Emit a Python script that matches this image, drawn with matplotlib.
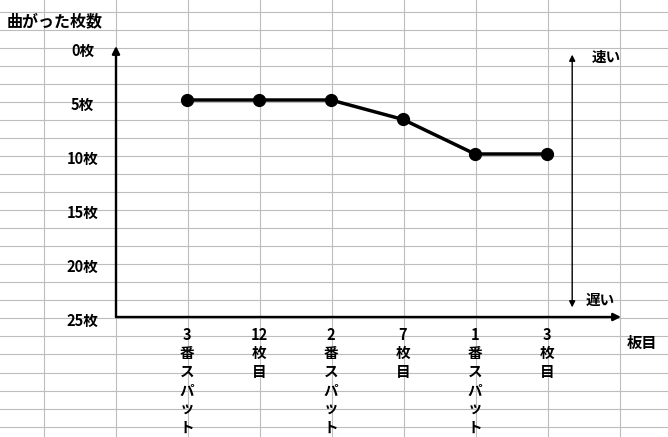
import matplotlib.pyplot as plt
import matplotlib.transforms as mtransforms

plt.rcParams['font.family'] = ['Noto Sans CJK JP', 'DejaVu Sans']

# データ
categories = ["3\n番\nス\nパ\nッ\nト", "12\n枚\n目", "2\n番\nス\nパ\nッ\nト",
              "7\n枚\n目", "1\n番\nス\nパ\nッ\nト", "3\n枚\n目"]
bend_counts = [5, 5, 5, 6.8, 10, 10]
y_ticks = [0, 5, 10, 15, 20, 25]
y_tick_labels = ["0枚", "5枚", "10枚", "15枚", "20枚", "25枚"]

W, H = 668, 437
fig = plt.figure(figsize=(W / 100, H / 100), dpi=100)

# 表計算ソフト風の背景グリッド
bg = fig.add_axes([0, 0, 1, 1])
bg.set_xlim(0, W)
bg.set_ylim(H, 0)
bg.axis("off")
for k in range(10):
    bg.axvline(43.5 + 72 * k, color="#bdbdbd", lw=0.8)
for k in range(25):
    bg.axhline(11.5 + 18.05 * k, color="#bdbdbd", lw=0.8)

# グラフ本体 (x: 116-621px, y: 46-317px)
x0, x1 = 116, 621
y0, y1 = 46, 317
ax = fig.add_axes([x0 / W, 1 - y1 / H, (x1 - x0) / W, (y1 - y0) / H])
ax.patch.set_alpha(0)
xs = list(range(len(categories)))
ax.plot(xs, bend_counts, color="black", lw=2.5, marker="o", markersize=8.5)
ax.set_xlim((x0 - 187) / 72, (x1 - 187) / 72)
ax.set_ylim((y1 - y0) / 10.8, 0)

for s in ax.spines.values():
    s.set_visible(False)
ax.annotate("", xy=(0, 1), xytext=(0, 0), xycoords="axes fraction",
            arrowprops=dict(arrowstyle="-|>", lw=1.7, color="black", mutation_scale=11,
                            shrinkA=0, shrinkB=0))
ax.annotate("", xy=(1, 0), xytext=(0, 0), xycoords="axes fraction",
            arrowprops=dict(arrowstyle="-|>", lw=1.7, color="black", mutation_scale=11,
                            shrinkA=0, shrinkB=0))

ax.set_xticks(xs)
ax.set_xticklabels(categories, fontsize=10.5, fontweight="bold", linespacing=1.2, va="top")
ax.set_yticks(y_ticks)
ax.set_yticklabels(y_tick_labels, fontsize=10.5, fontweight="bold", ha="center")
ax.tick_params(axis="x", length=0, pad=7)
ax.tick_params(axis="y", length=0, pad=24)
off = mtransforms.ScaledTranslation(0, -3 / 100, fig.dpi_scale_trans)
for lbl in ax.get_yticklabels():
    lbl.set_transform(lbl.get_transform() + off)

# 速い / 遅い の両矢印
ax.annotate("", xy=(5.35, 0.8), xytext=(5.35, 24.2), xycoords="data",
            arrowprops=dict(arrowstyle="<|-|>", lw=1.0, color="black", mutation_scale=9,
                            shrinkA=0, shrinkB=0), annotation_clip=False)

fig.text(7 / W, 1 - 21 / H, "曲がった枚数", fontsize=11.5, fontweight="bold", va="center", ha="left")
fig.text(606 / W, 1 - 57 / H, "速い", fontsize=10.5, fontweight="bold", va="center", ha="center")
fig.text(600 / W, 1 - 300 / H, "遅い", fontsize=10.5, fontweight="bold", va="center", ha="center")
fig.text(642 / W, 1 - 343 / H, "板目", fontsize=11, fontweight="bold", va="center", ha="center")

fig.savefig("out.png", dpi=100)
